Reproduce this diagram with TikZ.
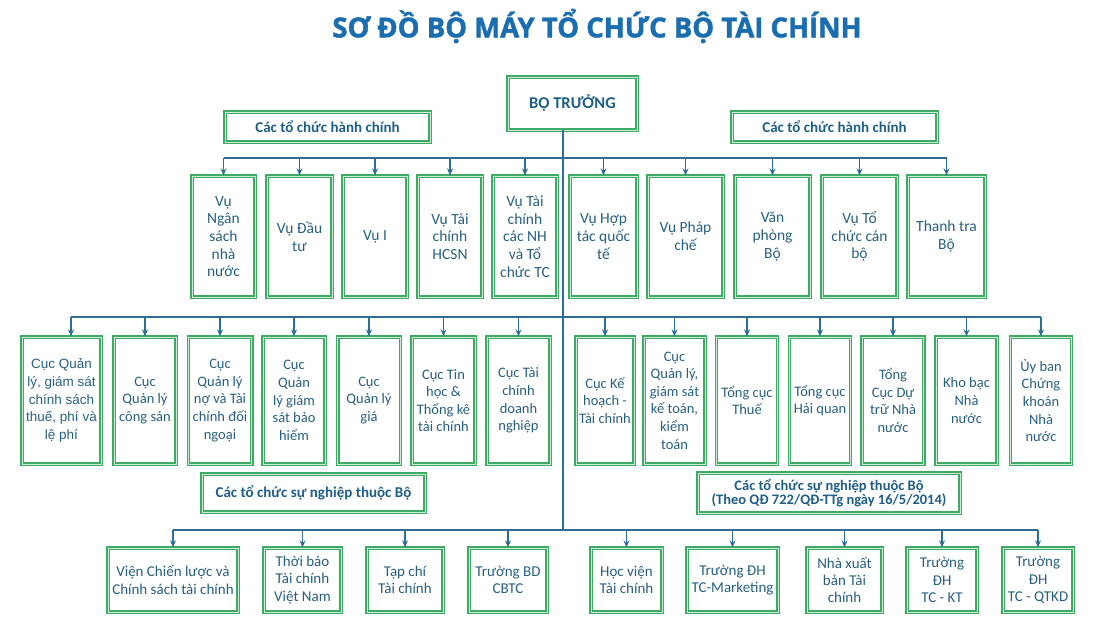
\documentclass[tikz,border=0pt]{standalone}
\usepackage{fontspec}
\setmainfont{Carlito}
\newfontfamily\titlefont{Open Sans}[BoldFeatures={FakeBold=1.6}]
\newfontfamily\arialfont{Liberation Sans}
\usetikzlibrary{arrows.meta}
\definecolor{lineblue}{HTML}{2F6E93}
\definecolor{txtblue}{HTML}{28607F}
\definecolor{hdblue}{HTML}{1F5E85}
\definecolor{ttlblue}{HTML}{1A6DAE}
\definecolor{gOut}{HTML}{3FAA66}
\definecolor{gIn}{HTML}{CDEBD6}
\tikzset{
  unitbox/.style={draw=gOut, line width=1.3pt, double=gIn, double distance=0.9pt,
    fill=white, inner sep=0pt, align=center, text=txtblue},
  rowone/.style={unitbox, minimum height=121pt, font=\fontsize{15.5}{17.7}\selectfont},
  rowtwo/.style={unitbox, minimum height=127pt, font=\fontsize{14.5}{17.6}\selectfont},
  rowthree/.style={unitbox, minimum height=64pt, font=\fontsize{15}{17.3}\selectfont},
  hdbox/.style={unitbox, text=hdblue, font=\bfseries\fontsize{15}{16}\selectfont},
  bw/.style={minimum width=#1pt},
  ln/.style={draw=lineblue, line width=1.3pt},
  arr/.style={draw=lineblue, line width=1.3pt, -{Stealth[length=7pt,width=6pt]}},
}
\begin{document}
\begin{tikzpicture}[x=1pt,y=-1pt]
\useasboundingbox[fill=white] (0,0) rectangle (1100,616);
% title
\node[font=\titlefont\bfseries\fontsize{27.5}{30}\selectfont, text=ttlblue] (title) at (597,26) {SƠ ĐỒ BỘ MÁY TỔ CHỨC BỘ TÀI CHÍNH};
% top
\node[hdbox, bw=129, minimum height=53pt, font=\bfseries\fontsize{16.5}{18}\selectfont] (bt) at (572.5,103.5) {BỘ TRƯỞNG};
\node[hdbox, bw=205, minimum height=30pt] (hl) at (327.5,127) {Các tổ chức hành chính};
\node[hdbox, bw=205, minimum height=30pt] (hr) at (834.5,127) {Các tổ chức hành chính};
% row 1
\node[rowone, bw=63] (b1) at (223.5,236.5) {Vụ\\Ngân\\sách\\nhà\\nước};
\node[rowone, bw=65] (b2) at (299.5,236.5) {Vụ Đầu\\tư};
\node[rowone, bw=64] (b3) at (375,236.5) {Vụ I};
\node[rowone, bw=64] (b4) at (450,236.5) {Vụ Tài\\chính\\HCSN};
\node[rowone, bw=64] (b5) at (525,236.5) {Vụ Tài\\chính\\các NH\\và Tổ\\chức TC};
\node[rowone, bw=67] (b6) at (603.5,236.5) {Vụ Hợp\\tác quốc\\tế};
\node[rowone, bw=75] (b7) at (685.5,236.5) {Vụ Pháp\\chế};
\node[rowone, bw=75] (b8) at (772.5,236.5) {Văn\\phòng\\Bộ};
\node[rowone, bw=75] (b9) at (859.5,236.5) {Vụ Tổ\\chức cán\\bộ};
\node[rowone, bw=77] (b10) at (946.5,236.5) {Thanh tra\\Bộ};
% row 2
\node[rowtwo, bw=79, font=\arialfont\fontsize{13.5}{17.6}\selectfont] (c1) at (61.5,400.5) {Cục Quản\\lý, giám sát\\chính sách\\thuế, phí và\\lệ phí};
\node[rowtwo, bw=62] (c2) at (145,400.5) {Cục\\Quản lý\\công sản};
\node[rowtwo, bw=63.5] (c3) at (220,400.5) {Cục\\Quản lý\\nợ và Tài\\chính đối\\ngoại};
\node[rowtwo, bw=62] (c4) at (294,400.5) {Cục\\Quản\\lý giám\\sát bảo\\hiểm};
\node[rowtwo, bw=62.5] (c5) at (369,400.5) {Cục\\Quản lý\\giá};
\node[rowtwo, bw=63] (c6) at (443.5,400.5) {Cục Tin\\học \&\\Thống kê\\tài chính};
\node[rowtwo, bw=63] (c7) at (518.5,400.5) {Cục Tài\\chính\\doanh\\nghiệp};
\node[rowtwo, bw=58] (d1) at (605,400.5) {Cục Kế\\hoạch -\\Tài chính};
\node[rowtwo, bw=61] (d2) at (674.5,400.5) {Cục\\Quản lý,\\giám sát\\kế toán,\\kiểm\\toán};
\node[rowtwo, bw=61.4] (d3) at (747,400.5) {Tổng cục\\Thuế};
\node[rowtwo, bw=61.4] (d4) at (820,400.5) {Tổng cục\\Hải quan};
\node[rowtwo, bw=61.6] (d5) at (893,400.5) {Tổng\\Cục Dự\\trữ Nhà\\nước};
\node[rowtwo, bw=61] (d6) at (966.5,400.5) {Kho bạc\\Nhà\\nước};
\node[rowtwo, bw=61.4] (d7) at (1041,400.5) {Ủy ban\\Chứng\\khoán\\Nhà\\nước};
% row 3 headers
\node[hdbox, bw=223, minimum height=38pt] (hs) at (313.5,493) {Các tổ chức sự nghiệp thuộc Bộ};
\node[hdbox, bw=262, minimum height=40pt, font=\bfseries\fontsize{14.5}{13.5}\selectfont] (hq) at (829,493) {Các tổ chức sự nghiệp thuộc Bộ\\(Theo QĐ 722/QĐ-TTg ngày 16/5/2014)};
% row 3
\node[rowthree, bw=130] (e1) at (173,580) {Viện Chiến lược và\\Chính sách tài chính};
\node[rowthree, bw=77] (e2) at (302.5,580) {Thời báo\\Tài chính\\Việt Nam};
\node[rowthree, bw=76] (e3) at (405,580) {Tạp chí\\Tài chính};
\node[rowthree, bw=78] (e4) at (508,580) {Trường BD\\CBTC};
\node[rowthree, bw=71] (f1) at (626.5,580) {Học viện\\Tài chính};
\node[rowthree, bw=91] (f2) at (732.5,580) {Trường ĐH\\TC-Marketing};
\node[rowthree, bw=75] (f3) at (844.5,580) {Nhà xuất\\bản Tài\\chính};
\node[rowthree, bw=70] (f4) at (942,580) {Trường\\ĐH\\TC - KT};
\node[rowthree, bw=70] (f5) at (1038,580) {Trường\\ĐH\\TC - QTKD};
% connector coordinates
\coordinate (trtop) at (563,130);
\coordinate (trbot) at (563,530);
\coordinate (busA) at (223.5,158);
\coordinate (busB) at (946.5,158);
\coordinate (busC) at (71,317);
\coordinate (busD) at (1041,317);
\coordinate (busE) at (173,530);
\coordinate (busF) at (1038,530);
% trunk and buses
\draw[ln] (trtop) -- (trbot);
\draw[ln] (busA) -- (busB);
\draw[ln] (busC) -- (busD);
\draw[ln] (busE) -- (busF);
% arrows row 1
\foreach \n in {b1,b2,b3,b4,b5,b6,b7,b8,b9,b10}
  \draw[arr] (\n.north |- busA) -- (\n.north);
% arrows row 2
\draw[arr] ([xshift=9.5pt]c1.north |- busC) -- ([xshift=9.5pt]c1.north);
\foreach \n in {c2,c3,c4,c5,c6,c7,d1,d2,d3,d4,d5,d6,d7}
  \draw[arr] (\n.north |- busC) -- (\n.north);
% arrows row 3
\foreach \n in {e1,e2,e3,e4,f1,f2,f3,f4,f5}
  \draw[arr] (\n.north |- busE) -- (\n.north);
\end{tikzpicture}
\end{document}
